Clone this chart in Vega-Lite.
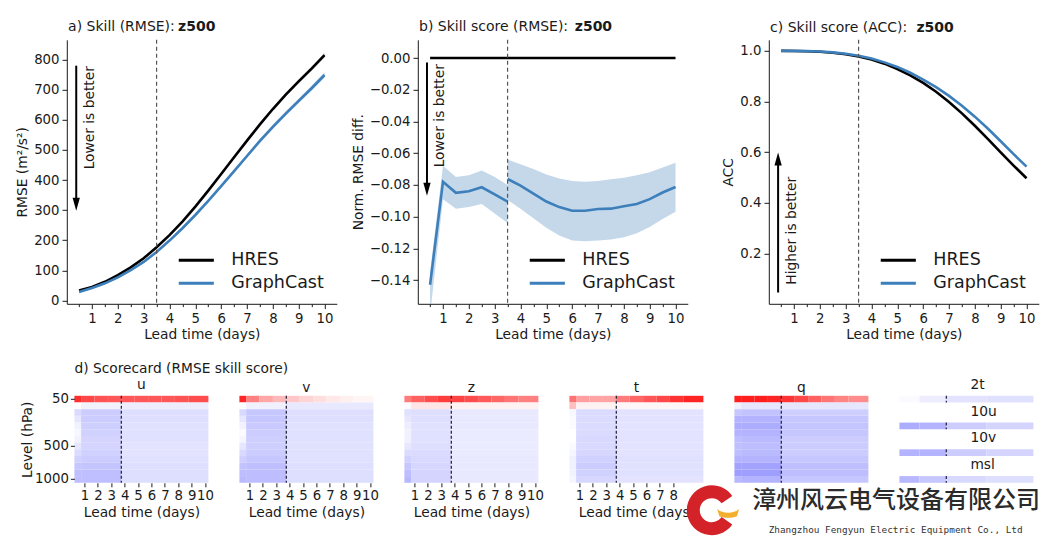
{
"$schema":"https://vega.github.io/schema/vega-lite/v6.json",
"padding":{"left":14.8,"top":19.8,"right":0,"bottom":0},
"config":{"font":"DejaVu Sans","view":{"stroke":null},
"axis":{"grid":false,"domainColor":"#1a1a1a","tickColor":"#1a1a1a","labelColor":"#1a1a1a","titleColor":"#1a1a1a","labelFont":"DejaVu Sans","titleFont":"DejaVu Sans","labelFontSize":13.3,"titleFontSize":13.8,"titleFontWeight":"normal","tickSize":4.8,"labelPadding":3,"domainWidth":1,"tickWidth":1,"labelOverlap":false,"tickCount":50},
"title":{"font":"DejaVu Sans","fontSize":13.8,"fontWeight":"normal","color":"#1a1a1a"},
"text":{"font":"DejaVu Sans","fontSize":14,"color":"#1a1a1a"}},
"datasets":{
"a":[
{"t":0.5,"s":"HRES","v":33,"lo":32,"hi":34},{"t":1,"s":"HRES","v":45,"lo":44,"hi":46},{"t":1.5,"s":"HRES","v":62,"lo":61,"hi":63},{"t":2,"s":"HRES","v":84,"lo":82.5,"hi":85.5},{"t":2.5,"s":"HRES","v":110,"lo":108.3,"hi":111.7},{"t":3,"s":"HRES","v":140,"lo":138,"hi":142},{"t":3.5,"s":"HRES","v":177,"lo":174.8,"hi":179.2},{"t":4,"s":"HRES","v":217,"lo":214.5,"hi":219.5},{"t":4.5,"s":"HRES","v":262,"lo":259.2,"hi":264.8},{"t":5,"s":"HRES","v":312,"lo":309,"hi":315},{"t":5.5,"s":"HRES","v":365,"lo":361.5,"hi":368.5},{"t":6,"s":"HRES","v":420,"lo":416,"hi":424},{"t":6.5,"s":"HRES","v":476,"lo":471.5,"hi":480.5},{"t":7,"s":"HRES","v":531,"lo":526,"hi":536},{"t":7.5,"s":"HRES","v":585,"lo":579.5,"hi":590.5},{"t":8,"s":"HRES","v":636,"lo":630,"hi":642},{"t":8.5,"s":"HRES","v":684,"lo":677.5,"hi":690.5},{"t":9,"s":"HRES","v":728,"lo":721,"hi":735},{"t":9.5,"s":"HRES","v":770,"lo":762.5,"hi":777.5},{"t":10,"s":"HRES","v":815,"lo":807,"hi":823},
{"t":0.5,"s":"GraphCast","v":28,"lo":26,"hi":30},{"t":1,"s":"GraphCast","v":41.5,"lo":39.5,"hi":43.5},{"t":1.5,"s":"GraphCast","v":57,"lo":55,"hi":59},{"t":2,"s":"GraphCast","v":77,"lo":74.5,"hi":79.5},{"t":2.5,"s":"GraphCast","v":101,"lo":98.3,"hi":103.7},{"t":3,"s":"GraphCast","v":128,"lo":125,"hi":131},{"t":3.5,"s":"GraphCast","v":161,"lo":157.8,"hi":164.2},{"t":4,"s":"GraphCast","v":199,"lo":195.5,"hi":202.5},{"t":4.5,"s":"GraphCast","v":240,"lo":236.2,"hi":243.8},{"t":5,"s":"GraphCast","v":284,"lo":280,"hi":288},{"t":5.5,"s":"GraphCast","v":331,"lo":326.5,"hi":335.5},{"t":6,"s":"GraphCast","v":380,"lo":375,"hi":385},{"t":6.5,"s":"GraphCast","v":430,"lo":424.5,"hi":435.5},{"t":7,"s":"GraphCast","v":480,"lo":474,"hi":486},{"t":7.5,"s":"GraphCast","v":530,"lo":523.5,"hi":536.5},{"t":8,"s":"GraphCast","v":577,"lo":570,"hi":584},{"t":8.5,"s":"GraphCast","v":621,"lo":613.5,"hi":628.5},{"t":9,"s":"GraphCast","v":663,"lo":655,"hi":671},{"t":9.5,"s":"GraphCast","v":705,"lo":696.5,"hi":713.5},{"t":10,"s":"GraphCast","v":749,"lo":740,"hi":758}],
"b":[
{"t":0.5,"s":"HRES","g":0,"v":0},{"t":10,"s":"HRES","g":0,"v":0},
{"t":0.5,"s":"GraphCast","g":1,"v":-0.143,"lo":-0.162,"hi":-0.135},{"t":1,"s":"GraphCast","g":1,"v":-0.078,"lo":-0.089,"hi":-0.068},{"t":1.5,"s":"GraphCast","g":1,"v":-0.085,"lo":-0.095,"hi":-0.075},{"t":2,"s":"GraphCast","g":1,"v":-0.084,"lo":-0.094,"hi":-0.074},{"t":2.5,"s":"GraphCast","g":1,"v":-0.0815,"lo":-0.092,"hi":-0.071},{"t":3,"s":"GraphCast","g":1,"v":-0.086,"lo":-0.098,"hi":-0.075},{"t":3.5,"s":"GraphCast","g":1,"v":-0.0905,"lo":-0.104,"hi":-0.08},
{"t":3.5,"s":"GraphCast","g":2,"v":-0.0763,"lo":-0.0895,"hi":-0.064},{"t":4,"s":"GraphCast","g":2,"v":-0.0805,"lo":-0.095,"hi":-0.067},{"t":4.5,"s":"GraphCast","g":2,"v":-0.0855,"lo":-0.101,"hi":-0.07},{"t":5,"s":"GraphCast","g":2,"v":-0.0905,"lo":-0.107,"hi":-0.0735},{"t":5.5,"s":"GraphCast","g":2,"v":-0.094,"lo":-0.112,"hi":-0.076},{"t":6,"s":"GraphCast","g":2,"v":-0.0963,"lo":-0.115,"hi":-0.0775},{"t":6.5,"s":"GraphCast","g":2,"v":-0.0963,"lo":-0.1155,"hi":-0.078},{"t":7,"s":"GraphCast","g":2,"v":-0.0952,"lo":-0.115,"hi":-0.0775},{"t":7.5,"s":"GraphCast","g":2,"v":-0.095,"lo":-0.1145,"hi":-0.0765},{"t":8,"s":"GraphCast","g":2,"v":-0.0935,"lo":-0.113,"hi":-0.0755},{"t":8.5,"s":"GraphCast","g":2,"v":-0.092,"lo":-0.1105,"hi":-0.074},{"t":9,"s":"GraphCast","g":2,"v":-0.089,"lo":-0.1065,"hi":-0.072},{"t":9.5,"s":"GraphCast","g":2,"v":-0.0848,"lo":-0.1015,"hi":-0.069},{"t":10,"s":"GraphCast","g":2,"v":-0.0813,"lo":-0.097,"hi":-0.066}],
"c":[
{"t":0.5,"s":"HRES","v":0.9995},{"t":1,"s":"HRES","v":0.999},{"t":1.5,"s":"HRES","v":0.998},{"t":2,"s":"HRES","v":0.996},{"t":2.5,"s":"HRES","v":0.992},{"t":3,"s":"HRES","v":0.986},{"t":3.5,"s":"HRES","v":0.977},{"t":4,"s":"HRES","v":0.965},{"t":4.5,"s":"HRES","v":0.949},{"t":5,"s":"HRES","v":0.928},{"t":5.5,"s":"HRES","v":0.903},{"t":6,"s":"HRES","v":0.873},{"t":6.5,"s":"HRES","v":0.838},{"t":7,"s":"HRES","v":0.798},{"t":7.5,"s":"HRES","v":0.753},{"t":8,"s":"HRES","v":0.704},{"t":8.5,"s":"HRES","v":0.652},{"t":9,"s":"HRES","v":0.599},{"t":9.5,"s":"HRES","v":0.547},{"t":10,"s":"HRES","v":0.497},
{"t":0.5,"s":"GraphCast","v":0.9996},{"t":1,"s":"GraphCast","v":0.9992},{"t":1.5,"s":"GraphCast","v":0.9983},{"t":2,"s":"GraphCast","v":0.9966},{"t":2.5,"s":"GraphCast","v":0.9935},{"t":3,"s":"GraphCast","v":0.988},{"t":3.5,"s":"GraphCast","v":0.98},{"t":4,"s":"GraphCast","v":0.969},{"t":4.5,"s":"GraphCast","v":0.954},{"t":5,"s":"GraphCast","v":0.936},{"t":5.5,"s":"GraphCast","v":0.913},{"t":6,"s":"GraphCast","v":0.886},{"t":6.5,"s":"GraphCast","v":0.856},{"t":7,"s":"GraphCast","v":0.822},{"t":7.5,"s":"GraphCast","v":0.783},{"t":8,"s":"GraphCast","v":0.74},{"t":8.5,"s":"GraphCast","v":0.693},{"t":9,"s":"GraphCast","v":0.643},{"t":9.5,"s":"GraphCast","v":0.592},{"t":10,"s":"GraphCast","v":0.543}],
"sc":[
{"n":"u","l":50,"a":0.25,"b":0.75,"k":0.82},{"n":"u","l":50,"a":0.75,"b":1.75,"k":0.72},{"n":"u","l":50,"a":1.75,"b":2.75,"k":0.68},{"n":"u","l":50,"a":2.75,"b":3.75,"k":0.66},{"n":"u","l":50,"a":3.75,"b":4.75,"k":0.66},{"n":"u","l":50,"a":4.75,"b":5.75,"k":0.66},{"n":"u","l":50,"a":5.75,"b":6.75,"k":0.66},{"n":"u","l":50,"a":6.75,"b":7.75,"k":0.66},{"n":"u","l":50,"a":7.75,"b":8.75,"k":0.68},{"n":"u","l":50,"a":8.75,"b":10.25,"k":0.7},
{"n":"u","l":100,"a":0.25,"b":0.75,"k":0.0},{"n":"u","l":100,"a":0.75,"b":3.75,"k":-0.05},{"n":"u","l":100,"a":3.75,"b":10.25,"k":-0.07},
{"n":"u","l":150,"a":0.25,"b":0.75,"k":-0.14},{"n":"u","l":150,"a":0.75,"b":3.75,"k":-0.2},{"n":"u","l":150,"a":3.75,"b":10.25,"k":-0.13},
{"n":"u","l":200,"a":0.25,"b":0.75,"k":-0.1},{"n":"u","l":200,"a":0.75,"b":3.75,"k":-0.2},{"n":"u","l":200,"a":3.75,"b":10.25,"k":-0.13},
{"n":"u","l":250,"a":0.25,"b":0.75,"k":-0.05},{"n":"u","l":250,"a":0.75,"b":3.75,"k":-0.19},{"n":"u","l":250,"a":3.75,"b":10.25,"k":-0.12},
{"n":"u","l":300,"a":0.25,"b":0.75,"k":-0.03},{"n":"u","l":300,"a":0.75,"b":3.75,"k":-0.18},{"n":"u","l":300,"a":3.75,"b":10.25,"k":-0.12},
{"n":"u","l":400,"a":0.25,"b":0.75,"k":-0.05},{"n":"u","l":400,"a":0.75,"b":3.75,"k":-0.17},{"n":"u","l":400,"a":3.75,"b":10.25,"k":-0.12},
{"n":"u","l":500,"a":0.25,"b":0.75,"k":-0.1},{"n":"u","l":500,"a":0.75,"b":3.75,"k":-0.17},{"n":"u","l":500,"a":3.75,"b":10.25,"k":-0.11},
{"n":"u","l":600,"a":0.25,"b":0.75,"k":-0.14},{"n":"u","l":600,"a":0.75,"b":3.75,"k":-0.18},{"n":"u","l":600,"a":3.75,"b":10.25,"k":-0.11},
{"n":"u","l":700,"a":0.25,"b":0.75,"k":-0.18},{"n":"u","l":700,"a":0.75,"b":3.75,"k":-0.2},{"n":"u","l":700,"a":3.75,"b":10.25,"k":-0.12},
{"n":"u","l":850,"a":0.25,"b":0.75,"k":-0.22},{"n":"u","l":850,"a":0.75,"b":3.75,"k":-0.23},{"n":"u","l":850,"a":3.75,"b":10.25,"k":-0.13},
{"n":"u","l":925,"a":0.25,"b":0.75,"k":-0.25},{"n":"u","l":925,"a":0.75,"b":3.75,"k":-0.25},{"n":"u","l":925,"a":3.75,"b":10.25,"k":-0.13},
{"n":"u","l":1000,"a":0.25,"b":0.75,"k":-0.26},{"n":"u","l":1000,"a":0.75,"b":3.75,"k":-0.25},{"n":"u","l":1000,"a":3.75,"b":10.25,"k":-0.13},
{"n":"v","l":50,"a":0.25,"b":0.75,"k":0.85},{"n":"v","l":50,"a":0.75,"b":1.75,"k":0.5},{"n":"v","l":50,"a":1.75,"b":2.75,"k":0.35},{"n":"v","l":50,"a":2.75,"b":3.75,"k":0.28},{"n":"v","l":50,"a":3.75,"b":4.75,"k":0.22},{"n":"v","l":50,"a":4.75,"b":5.75,"k":0.17},{"n":"v","l":50,"a":5.75,"b":6.75,"k":0.13},{"n":"v","l":50,"a":6.75,"b":7.75,"k":0.09},{"n":"v","l":50,"a":7.75,"b":8.75,"k":0.06},{"n":"v","l":50,"a":8.75,"b":10.25,"k":0.04},
{"n":"v","l":100,"a":0.25,"b":0.75,"k":0.0},{"n":"v","l":100,"a":0.75,"b":3.75,"k":-0.06},{"n":"v","l":100,"a":3.75,"b":10.25,"k":-0.09},
{"n":"v","l":150,"a":0.25,"b":0.75,"k":-0.15},{"n":"v","l":150,"a":0.75,"b":3.75,"k":-0.22},{"n":"v","l":150,"a":3.75,"b":10.25,"k":-0.13},
{"n":"v","l":200,"a":0.25,"b":0.75,"k":-0.1},{"n":"v","l":200,"a":0.75,"b":3.75,"k":-0.22},{"n":"v","l":200,"a":3.75,"b":10.25,"k":-0.13},
{"n":"v","l":250,"a":0.25,"b":0.75,"k":-0.05},{"n":"v","l":250,"a":0.75,"b":3.75,"k":-0.21},{"n":"v","l":250,"a":3.75,"b":10.25,"k":-0.12},
{"n":"v","l":300,"a":0.25,"b":0.75,"k":-0.02},{"n":"v","l":300,"a":0.75,"b":3.75,"k":-0.2},{"n":"v","l":300,"a":3.75,"b":10.25,"k":-0.12},
{"n":"v","l":400,"a":0.25,"b":0.75,"k":-0.04},{"n":"v","l":400,"a":0.75,"b":3.75,"k":-0.19},{"n":"v","l":400,"a":3.75,"b":10.25,"k":-0.12},
{"n":"v","l":500,"a":0.25,"b":0.75,"k":-0.1},{"n":"v","l":500,"a":0.75,"b":3.75,"k":-0.19},{"n":"v","l":500,"a":3.75,"b":10.25,"k":-0.12},
{"n":"v","l":600,"a":0.25,"b":0.75,"k":-0.15},{"n":"v","l":600,"a":0.75,"b":3.75,"k":-0.2},{"n":"v","l":600,"a":3.75,"b":10.25,"k":-0.12},
{"n":"v","l":700,"a":0.25,"b":0.75,"k":-0.19},{"n":"v","l":700,"a":0.75,"b":3.75,"k":-0.22},{"n":"v","l":700,"a":3.75,"b":10.25,"k":-0.12},
{"n":"v","l":850,"a":0.25,"b":0.75,"k":-0.24},{"n":"v","l":850,"a":0.75,"b":3.75,"k":-0.25},{"n":"v","l":850,"a":3.75,"b":10.25,"k":-0.13},
{"n":"v","l":925,"a":0.25,"b":0.75,"k":-0.26},{"n":"v","l":925,"a":0.75,"b":3.75,"k":-0.26},{"n":"v","l":925,"a":3.75,"b":10.25,"k":-0.13},
{"n":"v","l":1000,"a":0.25,"b":0.75,"k":-0.27},{"n":"v","l":1000,"a":0.75,"b":3.75,"k":-0.26},{"n":"v","l":1000,"a":3.75,"b":10.25,"k":-0.13},
{"n":"z","l":50,"a":0.25,"b":0.75,"k":0.52},{"n":"z","l":50,"a":0.75,"b":1.75,"k":0.62},{"n":"z","l":50,"a":1.75,"b":2.75,"k":0.7},{"n":"z","l":50,"a":2.75,"b":3.75,"k":0.76},{"n":"z","l":50,"a":3.75,"b":4.75,"k":0.74},{"n":"z","l":50,"a":4.75,"b":5.75,"k":0.7},{"n":"z","l":50,"a":5.75,"b":6.75,"k":0.65},{"n":"z","l":50,"a":6.75,"b":7.75,"k":0.6},{"n":"z","l":50,"a":7.75,"b":8.75,"k":0.54},{"n":"z","l":50,"a":8.75,"b":10.25,"k":0.5},
{"n":"z","l":100,"a":0.25,"b":0.75,"k":-0.02},{"n":"z","l":100,"a":0.75,"b":3.75,"k":0.1},{"n":"z","l":100,"a":3.75,"b":10.25,"k":0.05},
{"n":"z","l":150,"a":0.25,"b":0.75,"k":-0.12},{"n":"z","l":150,"a":0.75,"b":3.75,"k":-0.13},{"n":"z","l":150,"a":3.75,"b":10.25,"k":-0.09},
{"n":"z","l":200,"a":0.25,"b":0.75,"k":-0.1},{"n":"z","l":200,"a":0.75,"b":3.75,"k":-0.13},{"n":"z","l":200,"a":3.75,"b":10.25,"k":-0.09},
{"n":"z","l":250,"a":0.25,"b":0.75,"k":-0.07},{"n":"z","l":250,"a":0.75,"b":3.75,"k":-0.12},{"n":"z","l":250,"a":3.75,"b":10.25,"k":-0.09},
{"n":"z","l":300,"a":0.25,"b":0.75,"k":-0.05},{"n":"z","l":300,"a":0.75,"b":3.75,"k":-0.12},{"n":"z","l":300,"a":3.75,"b":10.25,"k":-0.08},
{"n":"z","l":400,"a":0.25,"b":0.75,"k":-0.06},{"n":"z","l":400,"a":0.75,"b":3.75,"k":-0.12},{"n":"z","l":400,"a":3.75,"b":10.25,"k":-0.08},
{"n":"z","l":500,"a":0.25,"b":0.75,"k":-0.1},{"n":"z","l":500,"a":0.75,"b":3.75,"k":-0.13},{"n":"z","l":500,"a":3.75,"b":10.25,"k":-0.08},
{"n":"z","l":600,"a":0.25,"b":0.75,"k":-0.14},{"n":"z","l":600,"a":0.75,"b":3.75,"k":-0.14},{"n":"z","l":600,"a":3.75,"b":10.25,"k":-0.08},
{"n":"z","l":700,"a":0.25,"b":0.75,"k":-0.18},{"n":"z","l":700,"a":0.75,"b":3.75,"k":-0.15},{"n":"z","l":700,"a":3.75,"b":10.25,"k":-0.09},
{"n":"z","l":850,"a":0.25,"b":0.75,"k":-0.22},{"n":"z","l":850,"a":0.75,"b":3.75,"k":-0.16},{"n":"z","l":850,"a":3.75,"b":10.25,"k":-0.09},
{"n":"z","l":925,"a":0.25,"b":0.75,"k":-0.26},{"n":"z","l":925,"a":0.75,"b":3.75,"k":-0.17},{"n":"z","l":925,"a":3.75,"b":10.25,"k":-0.09},
{"n":"z","l":1000,"a":0.25,"b":0.75,"k":-0.28},{"n":"z","l":1000,"a":0.75,"b":3.75,"k":-0.17},{"n":"z","l":1000,"a":3.75,"b":10.25,"k":-0.09},
{"n":"t","l":50,"a":0.25,"b":0.75,"k":0.55},{"n":"t","l":50,"a":0.75,"b":1.75,"k":0.38},{"n":"t","l":50,"a":1.75,"b":2.75,"k":0.36},{"n":"t","l":50,"a":2.75,"b":3.75,"k":0.36},{"n":"t","l":50,"a":3.75,"b":4.75,"k":0.52},{"n":"t","l":50,"a":4.75,"b":5.75,"k":0.6},{"n":"t","l":50,"a":5.75,"b":6.75,"k":0.66},{"n":"t","l":50,"a":6.75,"b":7.75,"k":0.72},{"n":"t","l":50,"a":7.75,"b":8.75,"k":0.8},{"n":"t","l":50,"a":8.75,"b":10.25,"k":0.86},
{"n":"t","l":100,"a":0.25,"b":0.75,"k":0.25},{"n":"t","l":100,"a":0.75,"b":3.75,"k":0.05},{"n":"t","l":100,"a":3.75,"b":10.25,"k":0.03},
{"n":"t","l":150,"a":0.25,"b":0.75,"k":-0.03},{"n":"t","l":150,"a":0.75,"b":3.75,"k":-0.14},{"n":"t","l":150,"a":3.75,"b":10.25,"k":-0.11},
{"n":"t","l":200,"a":0.25,"b":0.75,"k":-0.02},{"n":"t","l":200,"a":0.75,"b":3.75,"k":-0.14},{"n":"t","l":200,"a":3.75,"b":10.25,"k":-0.11},
{"n":"t","l":250,"a":0.25,"b":0.75,"k":-0.02},{"n":"t","l":250,"a":0.75,"b":3.75,"k":-0.14},{"n":"t","l":250,"a":3.75,"b":10.25,"k":-0.11},
{"n":"t","l":300,"a":0.25,"b":0.75,"k":0.0},{"n":"t","l":300,"a":0.75,"b":3.75,"k":-0.14},{"n":"t","l":300,"a":3.75,"b":10.25,"k":-0.11},
{"n":"t","l":400,"a":0.25,"b":0.75,"k":0.0},{"n":"t","l":400,"a":0.75,"b":3.75,"k":-0.15},{"n":"t","l":400,"a":3.75,"b":10.25,"k":-0.11},
{"n":"t","l":500,"a":0.25,"b":0.75,"k":-0.02},{"n":"t","l":500,"a":0.75,"b":3.75,"k":-0.15},{"n":"t","l":500,"a":3.75,"b":10.25,"k":-0.11},
{"n":"t","l":600,"a":0.25,"b":0.75,"k":-0.04},{"n":"t","l":600,"a":0.75,"b":3.75,"k":-0.16},{"n":"t","l":600,"a":3.75,"b":10.25,"k":-0.11},
{"n":"t","l":700,"a":0.25,"b":0.75,"k":-0.06},{"n":"t","l":700,"a":0.75,"b":3.75,"k":-0.18},{"n":"t","l":700,"a":3.75,"b":10.25,"k":-0.12},
{"n":"t","l":850,"a":0.25,"b":0.75,"k":-0.06},{"n":"t","l":850,"a":0.75,"b":3.75,"k":-0.2},{"n":"t","l":850,"a":3.75,"b":10.25,"k":-0.12},
{"n":"t","l":925,"a":0.25,"b":0.75,"k":-0.05},{"n":"t","l":925,"a":0.75,"b":3.75,"k":-0.18},{"n":"t","l":925,"a":3.75,"b":10.25,"k":-0.12},
{"n":"t","l":1000,"a":0.25,"b":0.75,"k":-0.04},{"n":"t","l":1000,"a":0.75,"b":3.75,"k":-0.16},{"n":"t","l":1000,"a":3.75,"b":10.25,"k":-0.11},
{"n":"q","l":50,"a":0.25,"b":0.75,"k":0.88},{"n":"q","l":50,"a":0.75,"b":1.75,"k":0.88},{"n":"q","l":50,"a":1.75,"b":2.75,"k":0.88},{"n":"q","l":50,"a":2.75,"b":3.75,"k":0.86},{"n":"q","l":50,"a":3.75,"b":4.75,"k":0.8},{"n":"q","l":50,"a":4.75,"b":5.75,"k":0.72},{"n":"q","l":50,"a":5.75,"b":6.75,"k":0.62},{"n":"q","l":50,"a":6.75,"b":7.75,"k":0.54},{"n":"q","l":50,"a":7.75,"b":8.75,"k":0.48},{"n":"q","l":50,"a":8.75,"b":10.25,"k":0.45},
{"n":"q","l":100,"a":0.25,"b":0.75,"k":-0.05},{"n":"q","l":100,"a":0.75,"b":3.75,"k":-0.1},{"n":"q","l":100,"a":3.75,"b":10.25,"k":-0.1},
{"n":"q","l":150,"a":0.25,"b":0.75,"k":-0.22},{"n":"q","l":150,"a":0.75,"b":3.75,"k":-0.24},{"n":"q","l":150,"a":3.75,"b":10.25,"k":-0.19},
{"n":"q","l":200,"a":0.25,"b":0.75,"k":-0.3},{"n":"q","l":200,"a":0.75,"b":3.75,"k":-0.3},{"n":"q","l":200,"a":3.75,"b":10.25,"k":-0.22},
{"n":"q","l":250,"a":0.25,"b":0.75,"k":-0.32},{"n":"q","l":250,"a":0.75,"b":3.75,"k":-0.32},{"n":"q","l":250,"a":3.75,"b":10.25,"k":-0.23},
{"n":"q","l":300,"a":0.25,"b":0.75,"k":-0.3},{"n":"q","l":300,"a":0.75,"b":3.75,"k":-0.3},{"n":"q","l":300,"a":3.75,"b":10.25,"k":-0.22},
{"n":"q","l":400,"a":0.25,"b":0.75,"k":-0.26},{"n":"q","l":400,"a":0.75,"b":3.75,"k":-0.27},{"n":"q","l":400,"a":3.75,"b":10.25,"k":-0.2},
{"n":"q","l":500,"a":0.25,"b":0.75,"k":-0.25},{"n":"q","l":500,"a":0.75,"b":3.75,"k":-0.26},{"n":"q","l":500,"a":3.75,"b":10.25,"k":-0.2},
{"n":"q","l":600,"a":0.25,"b":0.75,"k":-0.26},{"n":"q","l":600,"a":0.75,"b":3.75,"k":-0.27},{"n":"q","l":600,"a":3.75,"b":10.25,"k":-0.2},
{"n":"q","l":700,"a":0.25,"b":0.75,"k":-0.3},{"n":"q","l":700,"a":0.75,"b":3.75,"k":-0.3},{"n":"q","l":700,"a":3.75,"b":10.25,"k":-0.22},
{"n":"q","l":850,"a":0.25,"b":0.75,"k":-0.36},{"n":"q","l":850,"a":0.75,"b":3.75,"k":-0.36},{"n":"q","l":850,"a":3.75,"b":10.25,"k":-0.25},
{"n":"q","l":925,"a":0.25,"b":0.75,"k":-0.38},{"n":"q","l":925,"a":0.75,"b":3.75,"k":-0.38},{"n":"q","l":925,"a":3.75,"b":10.25,"k":-0.26},
{"n":"q","l":1000,"a":0.25,"b":0.75,"k":-0.28},{"n":"q","l":1000,"a":0.75,"b":3.75,"k":-0.3},{"n":"q","l":1000,"a":3.75,"b":10.25,"k":-0.22}],
"sf":[
{"n":"2t","r":0,"r2":1,"a":0.25,"b":1.75,"k":-0.02},{"n":"2t","r":0,"r2":1,"a":1.75,"b":3.75,"k":-0.07},{"n":"2t","r":0,"r2":1,"a":3.75,"b":6.75,"k":-0.11},{"n":"2t","r":0,"r2":1,"a":6.75,"b":10.25,"k":-0.12},
{"n":"10u","r":4,"r2":5,"a":0.25,"b":1.75,"k":-0.32},{"n":"10u","r":4,"r2":5,"a":1.75,"b":3.75,"k":-0.3},{"n":"10u","r":4,"r2":5,"a":3.75,"b":6.75,"k":-0.2},{"n":"10u","r":4,"r2":5,"a":6.75,"b":10.25,"k":-0.17},
{"n":"10v","r":8,"r2":9,"a":0.25,"b":1.75,"k":-0.3},{"n":"10v","r":8,"r2":9,"a":1.75,"b":3.75,"k":-0.3},{"n":"10v","r":8,"r2":9,"a":3.75,"b":6.75,"k":-0.2},{"n":"10v","r":8,"r2":9,"a":6.75,"b":10.25,"k":-0.17},
{"n":"msl","r":12,"r2":13,"a":0.25,"b":1.75,"k":-0.28},{"n":"msl","r":12,"r2":13,"a":1.75,"b":3.75,"k":-0.22},{"n":"msl","r":12,"r2":13,"a":3.75,"b":6.75,"k":-0.15},{"n":"msl","r":12,"r2":13,"a":6.75,"b":10.25,"k":-0.13}],
"sl":[{"n":"2t","r":0,"r2":1},{"n":"10u","r":4,"r2":5},{"n":"10v","r":8,"r2":9},{"n":"msl","r":12,"r2":13}]
},
"resolve":{"scale":{"color":"independent"},"legend":{"color":"independent"}},
"spacing":20,
"vconcat":[
{"hconcat":[
{"width":270,"height":264,"data":{"name":"a"},"layer":[
{"transform":[{"filter":"datum.s==='HRES'"}],"mark":{"type":"area","color":"#000000","opacity":0.18},"encoding":{"x":{"field":"t","type":"quantitative","scale":{"domain":[0.025,10.475]},"axis":{"values":[0.5,1,1.5,2,2.5,3,3.5,4,4.5,5,5.5,6,6.5,7,7.5,8,8.5,9,9.5,10],"tickCount":50,"format":".0f","labelExpr":"datum.value % 1 === 0 ? datum.label : ''","tickSize":{"condition":{"test":"datum.value % 1 === 0","value":4.8},"value":2.8},"title":"Lead time (days)","titlePadding":3}},"y":{"field":"lo","type":"quantitative","scale":{"domain":[-11,866]},"axis":{"values":[0,100,200,300,400,500,600,700,800],"tickCount":50,"format":".0f","title":"RMSE (m²/s²)","titlePadding":4}},"y2":{"field":"hi"}}},
{"transform":[{"filter":"datum.s==='GraphCast'"}],"mark":{"type":"area","color":"#3d7fbb","opacity":0.3},"encoding":{"x":{"field":"t","type":"quantitative","scale":{"domain":[0.025,10.475]}},"y":{"field":"lo","type":"quantitative","scale":{"domain":[-11,866]}},"y2":{"field":"hi"}}},
{"mark":{"type":"line","strokeWidth":2.6},"encoding":{"x":{"field":"t","type":"quantitative","scale":{"domain":[0.025,10.475]}},"y":{"field":"v","type":"quantitative","scale":{"domain":[-11,866]}},"color":{"field":"s","type":"nominal","scale":{"domain":["HRES","GraphCast"],"range":["#000000","#3d7fbb"]},"legend":{"orient":"bottom-right","offset":12,"padding":0,"title":null,"labelFontSize":17.5,"labelFont":"DejaVu Sans","labelColor":"#1a1a1a","symbolType":"M-1.35,0H1.35","symbolSize":676,"symbolStrokeWidth":3,"labelOffset":20.5,"rowPadding":0,"labelLimit":300}}}},
{"data":{"values":[{}]},"mark":{"type":"rule","color":"#555555","strokeDash":[4,3],"strokeWidth":1.2},"encoding":{"x":{"datum":3.5,"scale":{"domain":[0.025,10.475]}}}},
{"data":{"values":[{}]},"mark":{"type":"rule","color":"#000000","strokeWidth":2},"encoding":{"x":{"datum":0.39,"scale":{"domain":[0.025,10.475]}},"y":{"datum":780,"scale":{"domain":[-11,866]}},"y2":{"datum":320}}},
{"data":{"values":[{}]},"mark":{"type":"point","shape":"M-0.56,-1L0.56,-1L0,1Z","size":169,"filled":true,"color":"#000000","opacity":1},"encoding":{"x":{"datum":0.39,"scale":{"domain":[0.025,10.475]}},"y":{"datum":320,"scale":{"domain":[-11,866]}}}},
{"data":{"values":[{}]},"mark":{"type":"text","text":"Lower is better","angle":270,"fontSize":13.8,"align":"center","baseline":"middle"},"encoding":{"x":{"datum":0.93,"scale":{"domain":[0.025,10.475]}},"y":{"datum":607,"scale":{"domain":[-11,866]}}}},
{"data":{"values":[{}]},"mark":{"type":"text","text":"a) Skill (RMSE):","align":"left","baseline":"middle"},"encoding":{"x":{"datum":0.075,"scale":{"domain":[0.025,10.475]}},"y":{"datum":907,"scale":{"domain":[-11,866]}}}},
{"data":{"values":[{}]},"mark":{"type":"text","text":"z500","fontWeight":"bold","align":"left","baseline":"middle"},"encoding":{"x":{"datum":4.33,"scale":{"domain":[0.025,10.475]}},"y":{"datum":907,"scale":{"domain":[-11,866]}}}}
]},
{"width":270,"height":264,"data":{"name":"b"},"layer":[
{"transform":[{"filter":"datum.s==='GraphCast'"}],"mark":{"type":"area","color":"#3d7fbb","opacity":0.3,"clip":true},"encoding":{"x":{"field":"t","type":"quantitative","scale":{"domain":[0.025,10.475]},"axis":{"values":[0.5,1,1.5,2,2.5,3,3.5,4,4.5,5,5.5,6,6.5,7,7.5,8,8.5,9,9.5,10],"tickCount":50,"format":".0f","labelExpr":"datum.value % 1 === 0 ? datum.label : ''","tickSize":{"condition":{"test":"datum.value % 1 === 0","value":4.8},"value":2.8},"title":"Lead time (days)","titlePadding":3}},"y":{"field":"lo","type":"quantitative","scale":{"domain":[-0.155,0.0115]},"axis":{"values":[0,-0.02,-0.04,-0.06,-0.08,-0.1,-0.12,-0.14],"tickCount":50,"format":".2f","title":"Norm. RMSE diff.","titlePadding":4}},"y2":{"field":"hi"},"detail":{"field":"g"}}},
{"mark":{"type":"line","strokeWidth":2.6},"encoding":{"x":{"field":"t","type":"quantitative","scale":{"domain":[0.025,10.475]}},"y":{"field":"v","type":"quantitative","scale":{"domain":[-0.155,0.0115]}},"detail":{"field":"g"},"color":{"field":"s","type":"nominal","scale":{"domain":["HRES","GraphCast"],"range":["#000000","#3d7fbb"]},"legend":{"orient":"bottom-right","offset":12,"padding":0,"title":null,"labelFontSize":17.5,"labelFont":"DejaVu Sans","labelColor":"#1a1a1a","symbolType":"M-1.35,0H1.35","symbolSize":676,"symbolStrokeWidth":3,"labelOffset":20.5,"rowPadding":0,"labelLimit":300}}}},
{"data":{"values":[{}]},"mark":{"type":"rule","color":"#555555","strokeDash":[4,3],"strokeWidth":1.2},"encoding":{"x":{"datum":3.5,"scale":{"domain":[0.025,10.475]}}}},
{"data":{"values":[{}]},"mark":{"type":"rule","color":"#000000","strokeWidth":2},"encoding":{"x":{"datum":0.38,"scale":{"domain":[0.025,10.475]}},"y":{"datum":-0.0028,"scale":{"domain":[-0.155,0.0115]}},"y2":{"datum":-0.0827}}},
{"data":{"values":[{}]},"mark":{"type":"point","shape":"M-0.56,-1L0.56,-1L0,1Z","size":169,"filled":true,"color":"#000000","opacity":1},"encoding":{"x":{"datum":0.38,"scale":{"domain":[0.025,10.475]}},"y":{"datum":-0.0827,"scale":{"domain":[-0.155,0.0115]}}}},
{"data":{"values":[{}]},"mark":{"type":"text","text":"Lower is better","angle":270,"fontSize":13.8,"align":"center","baseline":"middle"},"encoding":{"x":{"datum":0.87,"scale":{"domain":[0.025,10.475]}},"y":{"datum":-0.0364,"scale":{"domain":[-0.155,0.0115]}}}},
{"data":{"values":[{}]},"mark":{"type":"text","text":"b) Skill score (RMSE):","align":"left","baseline":"middle"},"encoding":{"x":{"datum":0.075,"scale":{"domain":[0.025,10.475]}},"y":{"datum":0.0193,"scale":{"domain":[-0.155,0.0115]}}}},
{"data":{"values":[{}]},"mark":{"type":"text","text":"z500","fontWeight":"bold","align":"left","baseline":"middle"},"encoding":{"x":{"datum":6.1,"scale":{"domain":[0.025,10.475]}},"y":{"datum":0.0193,"scale":{"domain":[-0.155,0.0115]}}}}
]},
{"width":270,"height":264,"data":{"name":"c"},"layer":[
{"mark":{"type":"line","strokeWidth":2.6},"encoding":{"x":{"field":"t","type":"quantitative","scale":{"domain":[0.025,10.475]},"axis":{"values":[0.5,1,1.5,2,2.5,3,3.5,4,4.5,5,5.5,6,6.5,7,7.5,8,8.5,9,9.5,10],"tickCount":50,"format":".0f","labelExpr":"datum.value % 1 === 0 ? datum.label : ''","tickSize":{"condition":{"test":"datum.value % 1 === 0","value":4.8},"value":2.8},"title":"Lead time (days)","titlePadding":3}},"y":{"field":"v","type":"quantitative","scale":{"domain":[0.002,1.043]},"axis":{"values":[0.2,0.4,0.6,0.8,1.0],"tickCount":50,"format":".1f","title":"ACC","titlePadding":4}},"color":{"field":"s","type":"nominal","scale":{"domain":["HRES","GraphCast"],"range":["#000000","#3d7fbb"]},"legend":{"orient":"bottom-right","offset":12,"padding":0,"title":null,"labelFontSize":17.5,"labelFont":"DejaVu Sans","labelColor":"#1a1a1a","symbolType":"M-1.35,0H1.35","symbolSize":676,"symbolStrokeWidth":3,"labelOffset":20.5,"rowPadding":0,"labelLimit":300}}}},
{"data":{"values":[{}]},"mark":{"type":"rule","color":"#555555","strokeDash":[4,3],"strokeWidth":1.2},"encoding":{"x":{"datum":3.5,"scale":{"domain":[0.025,10.475]}}}},
{"data":{"values":[{}]},"mark":{"type":"rule","color":"#000000","strokeWidth":2},"encoding":{"x":{"datum":0.385,"scale":{"domain":[0.025,10.475]}},"y":{"datum":0.0465,"scale":{"domain":[0.002,1.043]}},"y2":{"datum":0.573}}},
{"data":{"values":[{}]},"mark":{"type":"point","shape":"M-0.56,1L0.56,1L0,-1Z","size":169,"filled":true,"color":"#000000","opacity":1},"encoding":{"x":{"datum":0.385,"scale":{"domain":[0.025,10.475]}},"y":{"datum":0.573,"scale":{"domain":[0.002,1.043]}}}},
{"data":{"values":[{}]},"mark":{"type":"text","text":"Higher is better","angle":270,"fontSize":13.8,"align":"center","baseline":"middle"},"encoding":{"x":{"datum":0.93,"scale":{"domain":[0.025,10.475]}},"y":{"datum":0.29,"scale":{"domain":[0.002,1.043]}}}},
{"data":{"values":[{}]},"mark":{"type":"text","text":"c) Skill score (ACC):","align":"left","baseline":"middle"},"encoding":{"x":{"datum":0.075,"scale":{"domain":[0.025,10.475]}},"y":{"datum":1.0915,"scale":{"domain":[0.002,1.043]}}}},
{"data":{"values":[{}]},"mark":{"type":"text","text":"z500","fontWeight":"bold","align":"left","baseline":"middle"},"encoding":{"x":{"datum":5.74,"scale":{"domain":[0.025,10.475]}},"y":{"datum":1.0915,"scale":{"domain":[0.002,1.043]}}}}
]}
],"spacing":81,"bounds":"flush","resolve":{"scale":{"color":"independent"},"legend":{"color":"independent"}}},
{"hconcat":[
{"width":1,"height":87,"data":{"values":[{}]},"mark":{"type":"point","opacity":0},"encoding":{}},
{"hconcat":[
{"width":134,"height":87,"title":{"text":"u","offset":0},"layer":[
{"data":{"name":"sc"},"transform":[{"filter":"datum.n==='u'"}],"mark":"rect","encoding":{"x":{"field":"a","type":"quantitative","scale":{"domain":[0.25,10.25]},"axis":{"values":[1,2,3,4,5,6,7,8,9,10],"tickCount":50,"format":".0f","title":"Lead time (days)","domain":false,"tickSize":4,"labelPadding":2,"labelFlush":false,"titlePadding":3}},"x2":{"field":"b"},"y":{"field":"l","type":"ordinal","scale":{"domain":[50,100,150,200,250,300,400,500,600,700,850,925,1000],"paddingInner":0,"paddingOuter":0},"axis":{"values":[50,500,1000],"title":"Level (hPa)","domain":false,"tickSize":4,"labelPadding":2,"titlePadding":0}},"color":{"field":"k","type":"quantitative","scale":{"domain":[-1,0,1],"range":["#0000ff","#ffffff","#ff0000"],"interpolate":"rgb"},"legend":null}}},
{"data":{"values":[{}]},"mark":{"type":"rule","color":"#1c1c3a","strokeDash":[3,2],"strokeWidth":1.2},"encoding":{"x":{"datum":3.75,"scale":{"domain":[0.25,10.25]}}}}
]},
{"width":134,"height":87,"title":{"text":"v","offset":0},"layer":[
{"data":{"name":"sc"},"transform":[{"filter":"datum.n==='v'"}],"mark":"rect","encoding":{"x":{"field":"a","type":"quantitative","scale":{"domain":[0.25,10.25]},"axis":{"values":[1,2,3,4,5,6,7,8,9,10],"tickCount":50,"format":".0f","title":"Lead time (days)","domain":false,"tickSize":4,"labelPadding":2,"labelFlush":false,"titlePadding":3}},"x2":{"field":"b"},"y":{"field":"l","type":"ordinal","scale":{"domain":[50,100,150,200,250,300,400,500,600,700,850,925,1000],"paddingInner":0,"paddingOuter":0},"axis":null},"color":{"field":"k","type":"quantitative","scale":{"domain":[-1,0,1],"range":["#0000ff","#ffffff","#ff0000"],"interpolate":"rgb"},"legend":null}}},
{"data":{"values":[{}]},"mark":{"type":"rule","color":"#1c1c3a","strokeDash":[3,2],"strokeWidth":1.2},"encoding":{"x":{"datum":3.75,"scale":{"domain":[0.25,10.25]}}}}
]},
{"width":134,"height":87,"title":{"text":"z","offset":0},"layer":[
{"data":{"name":"sc"},"transform":[{"filter":"datum.n==='z'"}],"mark":"rect","encoding":{"x":{"field":"a","type":"quantitative","scale":{"domain":[0.25,10.25]},"axis":{"values":[1,2,3,4,5,6,7,8,9,10],"tickCount":50,"format":".0f","title":"Lead time (days)","domain":false,"tickSize":4,"labelPadding":2,"labelFlush":false,"titlePadding":3}},"x2":{"field":"b"},"y":{"field":"l","type":"ordinal","scale":{"domain":[50,100,150,200,250,300,400,500,600,700,850,925,1000],"paddingInner":0,"paddingOuter":0},"axis":null},"color":{"field":"k","type":"quantitative","scale":{"domain":[-1,0,1],"range":["#0000ff","#ffffff","#ff0000"],"interpolate":"rgb"},"legend":null}}},
{"data":{"values":[{}]},"mark":{"type":"rule","color":"#1c1c3a","strokeDash":[3,2],"strokeWidth":1.2},"encoding":{"x":{"datum":3.75,"scale":{"domain":[0.25,10.25]}}}}
]},
{"width":134,"height":87,"title":{"text":"t","offset":0},"layer":[
{"data":{"name":"sc"},"transform":[{"filter":"datum.n==='t'"}],"mark":"rect","encoding":{"x":{"field":"a","type":"quantitative","scale":{"domain":[0.25,10.25]},"axis":{"values":[1,2,3,4,5,6,7,8],"tickCount":50,"format":".0f","title":"Lead time (days)","domain":false,"tickSize":4,"labelPadding":2,"labelFlush":false,"titlePadding":3}},"x2":{"field":"b"},"y":{"field":"l","type":"ordinal","scale":{"domain":[50,100,150,200,250,300,400,500,600,700,850,925,1000],"paddingInner":0,"paddingOuter":0},"axis":null},"color":{"field":"k","type":"quantitative","scale":{"domain":[-1,0,1],"range":["#0000ff","#ffffff","#ff0000"],"interpolate":"rgb"},"legend":null}}},
{"data":{"values":[{}]},"mark":{"type":"rule","color":"#1c1c3a","strokeDash":[3,2],"strokeWidth":1.2},"encoding":{"x":{"datum":3.75,"scale":{"domain":[0.25,10.25]}}}}
]},
{"width":134,"height":87,"title":{"text":"q","offset":0},"layer":[
{"data":{"name":"sc"},"transform":[{"filter":"datum.n==='q'"}],"mark":"rect","encoding":{"x":{"field":"a","type":"quantitative","scale":{"domain":[0.25,10.25]},"axis":null},"x2":{"field":"b"},"y":{"field":"l","type":"ordinal","scale":{"domain":[50,100,150,200,250,300,400,500,600,700,850,925,1000],"paddingInner":0,"paddingOuter":0},"axis":null},"color":{"field":"k","type":"quantitative","scale":{"domain":[-1,0,1],"range":["#0000ff","#ffffff","#ff0000"],"interpolate":"rgb"},"legend":null}}},
{"data":{"values":[{}]},"mark":{"type":"rule","color":"#1c1c3a","strokeDash":[3,2],"strokeWidth":1.2},"encoding":{"x":{"datum":3.75,"scale":{"domain":[0.25,10.25]}}}}
]},
{"width":134,"height":87,"layer":[
{"data":{"name":"sf"},"mark":"rect","encoding":{"x":{"field":"a","type":"quantitative","scale":{"domain":[0.25,10.25]},"axis":null},"x2":{"field":"b"},"y":{"field":"r","type":"quantitative","scale":{"domain":[0,13],"reverse":true},"axis":null},"y2":{"field":"r2"},"color":{"field":"k","type":"quantitative","scale":{"domain":[-1,0,1],"range":["#0000ff","#ffffff","#ff0000"],"interpolate":"rgb"},"legend":null}}},
{"data":{"name":"sl"},"mark":{"type":"rule","color":"#1c1c3a","strokeDash":[3,2],"strokeWidth":1.2},"encoding":{"x":{"datum":3.75,"scale":{"domain":[0.25,10.25]}},"y":{"field":"r","type":"quantitative","scale":{"domain":[0,13],"reverse":true}},"y2":{"field":"r2"}}},
{"data":{"name":"sl"},"mark":{"type":"text","align":"left","baseline":"middle","dy":-11,"fontSize":13.8},"encoding":{"x":{"datum":5.55,"scale":{"domain":[0.25,10.25]}},"y":{"field":"r","type":"quantitative","scale":{"domain":[0,13],"reverse":true}},"text":{"field":"n"}}},
{"data":{"values":[{}]},"mark":{"type":"point","shape":"M0.819,-0.574A1,1 0 1,0 0.819,0.574L0.393,0.275A0.48,0.48 0 1,1 0.393,-0.275Z","size":2500,"filled":true,"color":"#d42229","opacity":1},"encoding":{"x":{"datum":-13.75,"scale":{"domain":[0.25,10.25]}},"y":{"datum":17.1,"scale":{"domain":[0,13],"reverse":true}}}},
{"data":{"values":[{}]},"mark":{"type":"point","shape":"M-1,-0.35C-0.5,0.1 0.5,0.1 1,-0.35L0.8,0.3C0.3,0.5 -0.3,0.5 -0.8,0.3Z","size":484,"filled":true,"color":"#f2b02e","opacity":1},"encoding":{"x":{"datum":-12.53,"scale":{"domain":[0.25,10.25]}},"y":{"datum":17.5,"scale":{"domain":[0,13],"reverse":true}}}},
{"data":{"values":[{}]},"mark":{"type":"text","text":"漳州风云电气设备有限公司","font":"Noto Sans CJK SC","fontSize":24,"fontWeight":500,"color":"#2b2b2b","align":"center","baseline":"middle"},"encoding":{"x":{"datum":0.0,"scale":{"domain":[0.25,10.25]}},"y":{"datum":15.77,"scale":{"domain":[0,13],"reverse":true}}}},
{"data":{"values":[{}]},"mark":{"type":"text","text":"Zhangzhou Fengyun Electric Equipment Co.,  Ltd","font":"DejaVu Sans Mono","fontSize":9.4,"color":"#333333","align":"center","baseline":"middle"},"encoding":{"x":{"datum":-0.03,"scale":{"domain":[0.25,10.25]}},"y":{"datum":20.1,"scale":{"domain":[0,13],"reverse":true}}}}
]}
],"spacing":31,"bounds":"flush","title":{"text":"d) Scorecard (RMSE skill score)","anchor":"start","frame":"group","offset":2,"fontSize":13.8,"fontWeight":"normal"}}
],"spacing":6.6,"bounds":"flush"}
]
}
